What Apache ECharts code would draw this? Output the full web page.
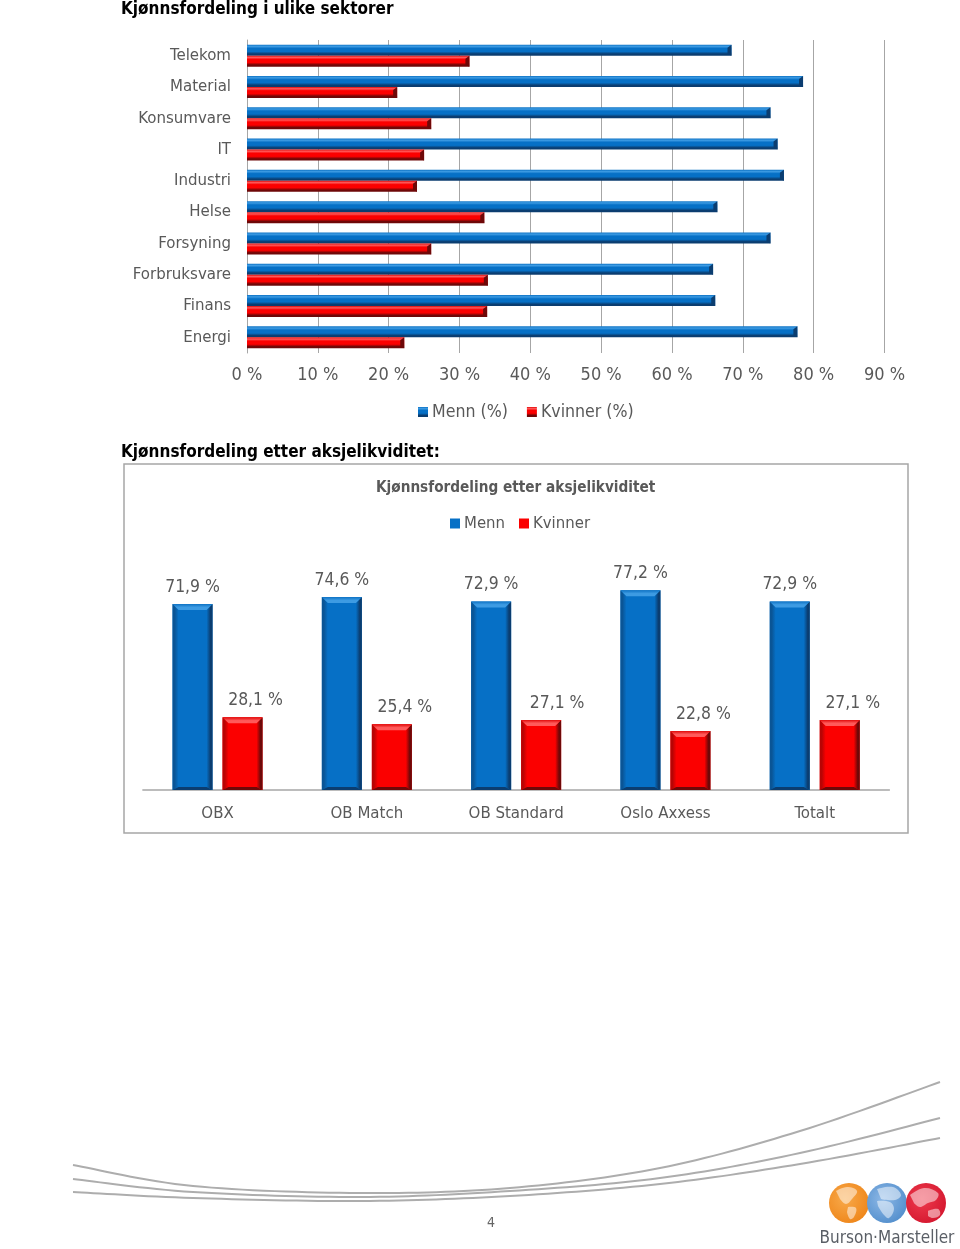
<!DOCTYPE html>
<html><head><meta charset="utf-8">
<style>html,body{margin:0;padding:0;background:#fff}#c{width:960px;height:1249px}</style>
<script src="https://cdn.jsdelivr.net/npm/echarts@6/dist/echarts.min.js"></script>
</head><body><div id="c"></div>
<script>
const sectors = ['Telekom','Material','Konsumvare','IT','Industri','Helse','Forsyning','Forbruksvare','Finans','Energi'];
const sectorMen = [68.4,78.5,73.9,74.9,75.8,66.4,73.9,65.8,66.1,77.7];
const sectorWomen = [31.4,21.2,26.0,25.0,24.0,33.5,26.0,34.0,33.9,22.2];
const indices = ['OBX','OB Match','OB Standard','Oslo Axxess','Totalt'];
const indexMen = [71.9,74.6,72.9,77.2,72.9];
const indexWomen = [28.1,25.4,27.1,22.8,27.1];

const FONT = '"DejaVu Sans Condensed","DejaVu Sans",sans-serif';
const GREY = '#595959', LINE = '#a6a6a6';
const pal = {
  blue:{body:'#0670c6',edge:'#0d72c4',light:'#3d9be3',side:'#0a5596',dark:'#0b3d70'},
  red:{body:'#fb0000',edge:'#e00808',light:'#ff5a5a',side:'#b80404',dark:'#6e0808'}
};
const hGrad = p => ({type:'linear',x:0,y:0,x2:0,y2:1,colorStops:[
  {offset:0,color:p.edge},{offset:.16,color:p.light},{offset:.34,color:p.body},
  {offset:.62,color:p.body},{offset:.84,color:p.dark},{offset:1,color:p.dark}]});
const lin = (x2, y2, stops) => ({type:'linear',x:0,y:0,x2,y2,colorStops:stops.map(s=>({offset:s[0],color:s[1]}))});
const comma = v => v.toFixed(1).replace('.',',') + ' %';

// bevel on the end of a horizontal bar; position comes from the axis scale
const hCap = (p, off, w) => (params, api) => {
  const c = api.coord([api.value(0), api.value(1)]);
  const y0 = c[1] + off, y1 = y0 + w, x = c[0];
  return {type:'polygon',silent:true,shape:{points:[[x,y0],[x,y1],[x-4,y1-2],[x-4,y0+3]]},style:{fill:p.dark}};
};
// bevel on the top, sides and foot of a column
const vCap = (p, off, w) => (params, api) => {
  const t = api.coord([api.value(0), api.value(1)]);
  const b = api.coord([api.value(0), 0]);
  const l = t[0] + off, r = l + w, y = t[1], B = b[1], s = 6;
  return {type:'group',silent:true,children:[
    {type:'polygon',shape:{points:[[l,y],[l+s,y+s],[l+s,B-3],[l,B]]},style:{fill:lin(1,0,[[0,p.side],[.35,p.side],[1,p.body]])}},
    {type:'polygon',shape:{points:[[r,y],[r-s,y+s],[r-s,B-3],[r,B]]},style:{fill:lin(1,0,[[0,p.body],[.65,p.dark],[1,p.dark]])}},
    {type:'polygon',shape:{points:[[l,y],[r,y],[r-s,y+s],[l+s,y+s]]},style:{fill:lin(0,1,[[0,p.edge],[.55,p.light],[1,p.light]])}},
    {type:'polygon',shape:{points:[[l,B],[l+s,B-3],[r-s,B-3],[r,B]]},style:{fill:p.dark}}
  ]};
};
const hBar = (name, vals, p) => ({type:'bar',name,data:vals,xAxisIndex:0,yAxisIndex:0,barWidth:11,barGap:0,itemStyle:{color:hGrad(p)}});
const hOver = (vals, p, off) => ({type:'custom',xAxisIndex:0,yAxisIndex:0,z:5,silent:true,
  data:vals.map((v,i)=>[v,i]),renderItem:hCap(p,off,11)});
const vBar = (name, vals, p, lab) => ({type:'bar',name,data:vals,xAxisIndex:1,yAxisIndex:1,barWidth:40,barGap:'25%',
  itemStyle:{color:p.body},label:lab});
const vOver = (vals, p, off) => ({type:'custom',xAxisIndex:1,yAxisIndex:1,z:5,silent:true,
  data:vals.map((v,i)=>[i,v]),renderItem:vCap(p,off,40)});
const lab = dx => ({show:true,position:'top',distance:8,offset:[dx,0],fontFamily:FONT,fontSize:17.4,color:GREY,
  formatter:q=>comma(q.value)});

const globe = (cx, c1, c2, land) => ({type:'group',silent:true,children:[
  {type:'circle',shape:{cx,cy:1203,r:20},style:{fill:{type:'radial',x:.4,y:.4,r:.7,colorStops:[{offset:0,color:c1},{offset:1,color:c2}]}}},
  ...land.map(pts=>({type:'polyline',shape:{points:pts.map(q=>[cx+q[0],1203+q[1]]),smooth:.4},style:{fill:'rgba(255,255,255,.5)',stroke:null}}))
]});
// decorative swoosh: Catmull-Rom through the traced points
const swoosh = pts => {
  const out = [];
  for (let i = 0; i < pts.length - 1; i++) {
    const a = pts[Math.max(i-1,0)], b = pts[i], c = pts[i+1], d = pts[Math.min(i+2,pts.length-1)];
    for (let k = 0; k < 16; k++) {
      const t = k/16, t2 = t*t, t3 = t2*t;
      out.push([0,1].map(j => .5*(2*b[j]+(c[j]-a[j])*t+(2*a[j]-5*b[j]+4*c[j]-d[j])*t2+(3*b[j]-a[j]-3*c[j]+d[j])*t3)));
    }
  }
  out.push(pts[pts.length-1]);
  return {type:'polyline',silent:true,shape:{points:out},style:{stroke:'#adadad',lineWidth:2,fill:null}};
};

const chart = echarts.init(document.getElementById('c'),null,{renderer:'canvas'});
chart.setOption({
  animation:false,
  backgroundColor:'#fff',
  title:[
    {text:'Kjønnsfordeling i ulike sektorer',left:116,top:-4,textStyle:{fontFamily:FONT,fontSize:17,fontWeight:'bold',color:'#000'}},
    {text:'Kjønnsfordeling etter aksjelikviditet:',left:116,top:439,textStyle:{fontFamily:FONT,fontSize:17,fontWeight:'bold',color:'#000'}},
    {text:'Kjønnsfordeling etter aksjelikviditet',left:371,top:476,textStyle:{fontFamily:FONT,fontSize:15.2,fontWeight:'bold',color:GREY}}
  ],
  legend:[
    {data:['Menn (%)','Kvinner (%)'],left:413,top:398,itemWidth:10,itemHeight:10,itemGap:19,icon:'rect',
      textStyle:{fontFamily:FONT,fontSize:17.6,color:GREY,padding:[0,0,0,-1]}},
    {data:['Menn','Kvinner'],left:445,top:510,itemWidth:10,itemHeight:10,itemGap:14,icon:'rect',
      textStyle:{fontFamily:FONT,fontSize:16.6,color:GREY,padding:[0,0,0,-1]}}
  ],
  grid:[
    {left:247,top:40,width:637.5,height:313,containLabel:false},
    {left:142.9,top:531.3,width:746.5,height:258.7,containLabel:false}
  ],
  xAxis:[
    {type:'value',gridIndex:0,min:0,max:90,interval:10,
      axisLabel:{formatter:'{value} %',fontFamily:FONT,fontSize:18,color:GREY,margin:13},
      axisLine:{show:false},axisTick:{show:false},
      splitLine:{show:true,lineStyle:{color:LINE,width:1}}},
    {type:'category',gridIndex:1,data:indices,
      axisLabel:{fontFamily:FONT,fontSize:16.7,color:GREY,margin:15},
      axisLine:{show:true,lineStyle:{color:LINE,width:1.5}},axisTick:{show:false}}
  ],
  yAxis:[
    {type:'category',gridIndex:0,data:sectors,inverse:true,
      axisLabel:{fontFamily:FONT,fontSize:16.7,color:GREY,margin:16},
      axisLine:{show:true,lineStyle:{color:LINE,width:1}},axisTick:{show:false}},
    {type:'value',gridIndex:1,min:0,max:100,show:false,splitLine:{show:false}}
  ],
  series:[
    hBar('Menn (%)',sectorMen,pal.blue),
    hBar('Kvinner (%)',sectorWomen,pal.red),
    hOver(sectorMen,pal.blue,-11),
    hOver(sectorWomen,pal.red,0),
    vBar('Menn',indexMen,pal.blue,lab(0)),
    vBar('Kvinner',indexWomen.map((v,i)=>i===2?{value:v,label:{offset:[16,0]}}:v),pal.red,lab(13)),
    vOver(indexMen,pal.blue,-45),
    vOver(indexWomen,pal.red,5)
  ],
  graphic:[
    {type:'rect',silent:true,z:-1,shape:{x:124,y:464,width:784,height:369},style:{fill:null,stroke:LINE,lineWidth:1.5}},
    swoosh([[73,1165],[193,1186],[360,1193],[510,1188],[660,1168],[800,1131],[940,1082]]),
    swoosh([[73,1179],[193,1192],[360,1197],[510,1191],[660,1178],[800,1153],[940,1118]]),
    swoosh([[73,1192],[193,1198],[360,1201],[510,1196],[660,1184],[800,1164],[940,1138]]),
    {type:'text',silent:true,style:{text:'4',x:491,y:1223,align:'center',verticalAlign:'middle',font:'14px '+FONT,fill:'#666'}},
    globe(849,'#f8a94a','#ee8417',[[[-13,-12],[-2,-16],[8,-12],[3,-4],[-3,1],[-9,-4]],[[-1,4],[7,5],[5,14],[1,16],[-2,9]]]),
    globe(887,'#8db8e6','#4f8ccb',[[[-10,-14],[6,-16],[14,-8],[8,-3],[-6,-4]],[[-10,-2],[3,-1],[7,6],[2,15],[-3,12],[-9,3]]]),
    globe(926,'#ee3b4d','#d3152d',[[[-16,-8],[-2,-15],[12,-10],[10,-3],[2,0],[-6,4],[-12,0]],[[2,8],[12,6],[14,12],[7,15],[2,13]]]),
    {type:'text',silent:true,style:{text:'Burson·Marsteller',x:887,y:1239,align:'center',verticalAlign:'middle',font:'17px '+FONT,fill:'#5a5f66'}}
  ]
});
</script></body></html>
